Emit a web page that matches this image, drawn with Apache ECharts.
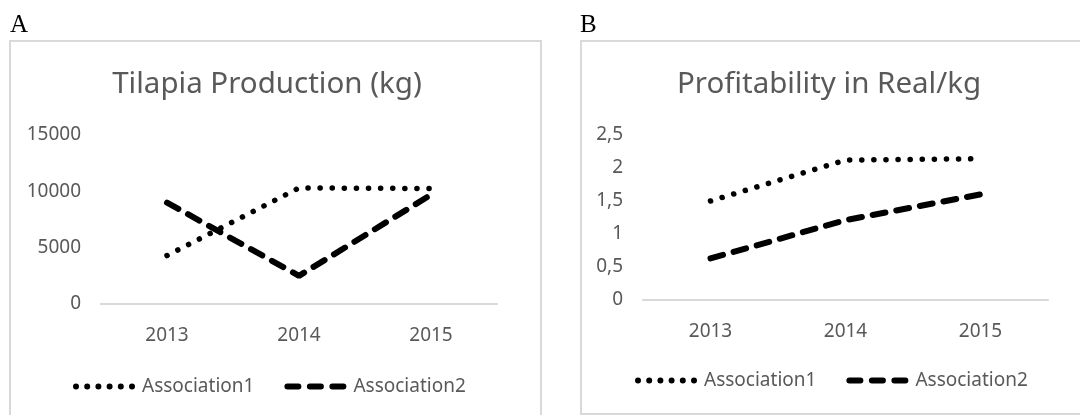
<!DOCTYPE html>
<html>
<head>
<meta charset="utf-8">
<script src="https://cdn.jsdelivr.net/npm/echarts@6/dist/echarts.min.js"></script>
<style>
html,body{margin:0;padding:0;background:#fff;}
#chart{width:1080px;height:415px;}
</style>
</head>
<body>
<div id="chart"></div>
<script>
// ---- data ----
const categories = ['2013', '2014', '2015'];
const seriesNames = ['Association1', 'Association2'];
const productionAssoc1 = [4300, 10300, 10250];
const productionAssoc2 = [9000, 2500, 9700];
const profitAssoc1 = [1.5, 2.12, 2.14];
const profitAssoc2 = [0.63, 1.21, 1.6];
const productionTicks = [0, 5000, 10000, 15000];
const profitTicks = [0, 0.5, 1, 1.5, 2, 2.5];
const panelTitles = ['Tilapia Production (kg)', 'Profitability in Real/kg'];
const panelLetters = ['A', 'B'];

const FONT = '"Noto Sans", "Open Sans", sans-serif';
const GREY = '#595959';
const dotted = { color: '#000', width: 5.5, type: [0.1, 12], cap: 'round' };
const dashed = { color: '#000', width: 6, type: [13, 11], cap: 'round' };

// legend icons (62 x 6 box)
function circ(cx) { return 'M' + (cx - 3) + ',3 a3,3 0 1,0 6,0 a3,3 0 1,0 -6,0 Z '; }
const dotIcon = 'path://' + [3, 14.2, 25.4, 36.6, 47.8, 59].map(circ).join('');
function dash(x0) { return 'M' + (x0 + 3) + ',0 L' + (x0 + 14) + ',0 A3,3 0 0,1 ' + (x0 + 14) + ',6 L' + (x0 + 3) + ',6 A3,3 0 0,1 ' + (x0 + 3) + ',0 Z '; }
const dashIcon = 'path://' + [0, 22.5, 45].map(dash).join('');

const chart = echarts.init(document.getElementById('chart'), null, { renderer: 'canvas' });

function mkLine(name, data, idx, style) {
  return {
    name: name, type: 'line', data: data,
    xAxisIndex: idx, yAxisIndex: idx,
    symbol: 'none', showSymbol: false, smooth: false,
    lineStyle: style, itemStyle: { color: '#000' },
    animation: false, silent: true
  };
}

function mkLegend(left, top) {
  return {
    data: [
      { name: seriesNames[0], icon: dotIcon },
      { name: seriesNames[1], icon: dashIcon }
    ],
    left: left, top: top, padding: 0, itemWidth: 62, itemHeight: 6, itemGap: 30,
    itemStyle: { color: '#000', borderWidth: 0 },
    textStyle: { fontFamily: FONT, fontSize: 19, color: GREY, padding: [0, 0, 0, 2] },
    selectedMode: false
  };
}

const option = {
  animation: false,
  backgroundColor: '#fff',
  textStyle: { fontFamily: FONT },
  title: [
    { text: panelLetters[0], left: 5, top: 8, textStyle: { fontFamily: '"Liberation Serif", serif', fontSize: 25, fontWeight: 'normal', color: '#000' } },
    { text: panelLetters[1], left: 575, top: 8, textStyle: { fontFamily: '"Liberation Serif", serif', fontSize: 25, fontWeight: 'normal', color: '#000' } },
    { text: panelTitles[0], left: 262, top: 65, textAlign: 'center', textStyle: { fontFamily: FONT, fontSize: 29.5, fontWeight: 'normal', color: GREY } },
    { text: panelTitles[1], left: 824, top: 65, textAlign: 'center', textStyle: { fontFamily: FONT, fontSize: 29.5, fontWeight: 'normal', color: GREY } }
  ],
  graphic: [
    { type: 'rect', shape: { x: 10, y: 41, width: 531, height: 400 }, style: { fill: 'none', stroke: '#d9d9d9', lineWidth: 2 }, silent: true, z: -1 },
    { type: 'rect', shape: { x: 581, y: 41, width: 520, height: 373 }, style: { fill: 'none', stroke: '#d9d9d9', lineWidth: 2 }, silent: true, z: -1 }
  ],
  legend: [mkLegend(73, 377), mkLegend(635, 371)],
  grid: [
    { left: 101, top: 135, width: 396, height: 169 },
    { left: 643, top: 135, width: 405, height: 165 }
  ],
  xAxis: [0, 1].map(i => ({
    type: 'category', gridIndex: i, data: categories, boundaryGap: true,
    axisLine: { lineStyle: { color: '#d9d9d9', width: 2 } },
    axisTick: { show: false },
    axisLabel: { color: GREY, fontSize: 19, fontFamily: FONT, margin: 22 }
  })),
  yAxis: [
    { type: 'value', gridIndex: 0, min: productionTicks[0], max: productionTicks[productionTicks.length - 1], interval: 5000,
      axisLine: { show: false }, axisTick: { show: false }, splitLine: { show: false },
      axisLabel: { color: GREY, fontSize: 19, fontFamily: FONT, margin: 20, formatter: v => String(v) } },
    { type: 'value', gridIndex: 1, min: profitTicks[0], max: profitTicks[profitTicks.length - 1], interval: 0.5,
      axisLine: { show: false }, axisTick: { show: false }, splitLine: { show: false },
      axisLabel: { color: GREY, fontSize: 19, fontFamily: FONT, margin: 20,
        formatter: v => String(v).replace('.', ',') } }
  ],
  series: [
    mkLine(seriesNames[0], productionAssoc1, 0, dotted),
    mkLine(seriesNames[1], productionAssoc2, 0, dashed),
    mkLine(seriesNames[0], profitAssoc1, 1, dotted),
    mkLine(seriesNames[1], profitAssoc2, 1, dashed)
  ]
};
chart.setOption(option);
</script>
</body>
</html>
